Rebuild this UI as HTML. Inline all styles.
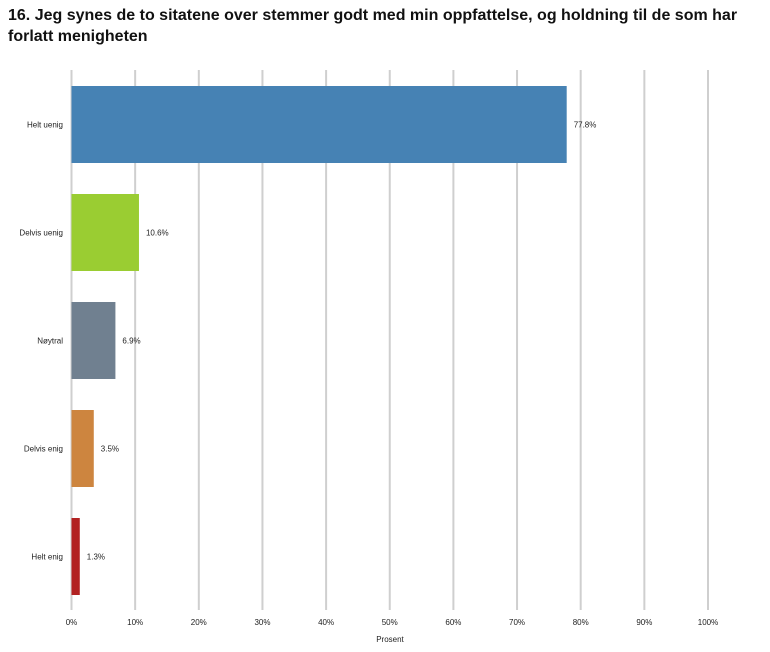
<!DOCTYPE html>
<html><head><meta charset="utf-8"><style>
body{margin:0;background:#fff;font-family:"Liberation Sans",sans-serif;}
#title{position:absolute;left:8px;top:5px;width:740px;font-size:16px;font-weight:bold;line-height:21px;color:#111;}
</style></head><body>
<div id="title">16. Jeg synes de to sitatene over stemmer godt med min oppfattelse, og holdning til de som har forlatt menigheten</div>
<svg id="chart" width="770" height="652" style="position:absolute;left:0;top:0" xmlns="http://www.w3.org/2000/svg"></svg>
<script>
const categories=["Helt uenig","Delvis uenig","Nøytral","Delvis enig","Helt enig"];
const values=[77.8,10.6,6.9,3.5,1.3];
const valueLabels=["77.8%","10.6%","6.9%","3.5%","1.3%"];
const ticks=[0,10,20,30,40,50,60,70,80,90,100];
const colors=["#4682b4","#9acd32","#708090","#cd853f","#b22222"];
const svg=document.getElementById('chart');const NS="http://www.w3.org/2000/svg";
const x0=71.5,x1=708,yTop=70,yBot=610;
const xs=v=>x0+(x1-x0)*v/100;
const band=(yBot-yTop)/categories.length;
function mk(t,a,txt){const e=document.createElementNS(NS,t);for(const k in a)e.setAttribute(k,a[k]);if(txt!=null)e.textContent=txt;svg.appendChild(e);return e;}
ticks.forEach(t=>{
 const l=mk('line',{x1:xs(t),x2:xs(t),y1:yTop,y2:yBot,stroke:'#cfcfcf','stroke-width':2});
 
 
 const tx=mk('text',{x:xs(t),y:625,'text-anchor':'middle','font-size':8,fill:'#222'},t+'%');
 
 
});
const at=mk('text',{x:390,y:642,'text-anchor':'middle','font-size':8,fill:'#222'},'Prosent');


categories.forEach((c,i)=>{
 const y=yTop+band*i+16,h=band-31;
 const r=mk('rect',{x:x0,y:y,width:xs(values[i])-x0,height:h,fill:colors[i]});
 
 
 const lb=mk('text',{x:63,y:y+h/2+3,'text-anchor':'end','font-size':8,fill:'#222'},c);
 
 
 const vl=mk('text',{x:xs(values[i])+7,y:y+h/2+3,'font-size':8,fill:'#222'},valueLabels[i]);
 
 
});
</script>
</body></html>
